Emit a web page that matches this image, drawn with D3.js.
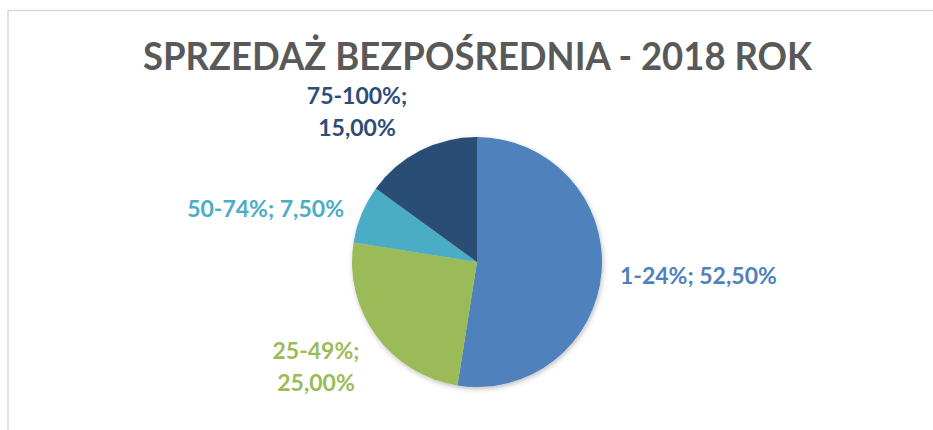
<!DOCTYPE html>
<html><head><meta charset="utf-8">
<script src="https://cdn.jsdelivr.net/npm/d3@7"></script>
<style>body{margin:0;background:#fff}svg{display:block}</style>
</head><body>
<svg id="c" width="933" height="430"></svg>
<script>
const title = "SPRZEDAŻ BEZPOŚREDNIA - 2018 ROK";
const categories = ["1-24%", "25-49%", "50-74%", "75-100%"];
const values = [52.5, 25.0, 7.5, 15.0];
const colors = ["#4F81BD", "#9BBB59", "#4BACC6", "#2C4D75"];
const labelColors = ["#4F81BD", "#9BBB59", "#4BACC6", "#2C4D75"];

const fmt = v => v.toFixed(2).replace(".", ",") + "%";
// label layout: lines and placement per slice (layout only)
const labelLines = [
  [categories[0] + "; " + fmt(values[0])],
  [categories[1] + ";", fmt(values[1])],
  [categories[2] + "; " + fmt(values[2])],
  [categories[3] + ";", fmt(values[3])]
];
const labelPos = [
  {x: 620, y: 284, anchor: "start"},
  {x: 316, y: 359, anchor: "middle"},
  {x: 344, y: 217, anchor: "end"},
  {x: 357, y: 104, anchor: "middle"}
];

const svg = d3.select("#c");
const defs = svg.append("defs");
const f = defs.append("filter").attr("id", "sh").attr("x", "-20%").attr("y", "-20%").attr("width", "140%").attr("height", "140%");
f.append("feDropShadow").attr("dx", 1).attr("dy", 2).attr("stdDeviation", 2.5).attr("flood-color", "#000").attr("flood-opacity", 0.25);

// chart border
svg.append("rect").attr("x", 8).attr("y", 10.5).attr("width", 1000).attr("height", 600)
  .attr("fill", "none").attr("stroke", "#d9d9d9").attr("stroke-width", 1.5);

svg.append("text").attr("x", 477.5).attr("y", 70).attr("text-anchor", "middle")
  .attr("font-family", "Lato, 'Open Sans', sans-serif").attr("font-weight", 700)
  .attr("font-size", 39).attr("fill", "#595959")
  .attr("textLength", 669).attr("lengthAdjust", "spacingAndGlyphs")
  .text(title);

const cx = 477, cy = 262, r = 125;
const pie = d3.pie().sort(null).value(d => d)(values);
const arc = d3.arc().innerRadius(0).outerRadius(r);
const g = svg.append("g").attr("transform", `translate(${cx},${cy})`);
g.append("g").attr("filter", "url(#sh)").selectAll("path").data(pie).join("path")
  .attr("d", arc).attr("fill", (d, i) => colors[i]);

const lg = svg.append("g").attr("font-family", "Lato, 'Open Sans', sans-serif")
  .attr("font-weight", 700).attr("font-size", 23);
labelLines.forEach((lines, i) => {
  const t = lg.append("text").attr("x", labelPos[i].x).attr("y", labelPos[i].y)
    .attr("text-anchor", labelPos[i].anchor).attr("fill", labelColors[i]);
  lines.forEach((s, j) => {
    t.append("tspan").attr("x", labelPos[i].x).attr("dy", j === 0 ? 0 : 32).text(s);
  });
});
</script>
</body></html>
